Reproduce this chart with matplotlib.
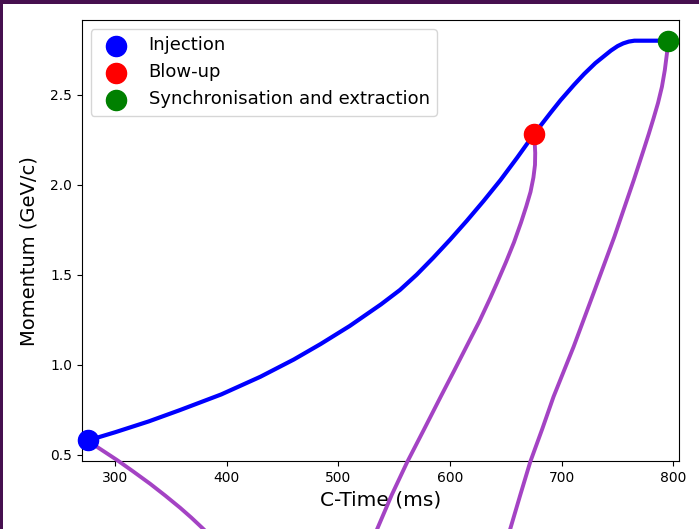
import matplotlib
matplotlib.use("Agg")
import matplotlib.pyplot as plt
from matplotlib.patches import Rectangle

# momentum ramp
ramp_t = [276, 300, 330, 358, 395, 430, 460, 484, 510, 538, 555, 570, 585, 600,
          615, 630, 645, 660, 675, 690, 699, 711, 720, 730, 737, 744, 750, 755,
          760, 765, 780, 795]
ramp_p = [0.58, 0.625, 0.685, 0.748, 0.835, 0.933, 1.029, 1.115, 1.215, 1.335,
          1.415, 1.50, 1.595, 1.695, 1.80, 1.91, 2.025, 2.15, 2.28, 2.40, 2.47,
          2.555, 2.615, 2.675, 2.71, 2.745, 2.77, 2.785, 2.795, 2.80, 2.80, 2.80]

events = ["Injection", "Blow-up", "Synchronisation and extraction"]
event_t = [276, 675.4, 795.2]
event_p = [0.58, 2.28, 2.80]
event_col = ["blue", "red", "green"]

# the three purple pointers running off the bottom
arrow1_t = [276, 283.6, 301.5, 316.1, 331.4, 344.8, 358.2, 368.1, 377.7, 389.6, 403.0]
arrow1_p = [0.58, 0.544, 0.471, 0.407, 0.338, 0.273, 0.205, 0.151, 0.095, 0.023, -0.06]
arrow2_t = [675.4, 676.2, 676.0, 674.6, 672.0, 668.2, 663.5, 657.2, 650.0, 642.0,
            635.9, 626.1, 615.8, 603.7, 591.6, 576.4, 561.6, 547.7, 534.7, 528.4]
arrow2_p = [2.28, 2.176, 2.11, 2.04, 1.96, 1.88, 1.79, 1.68, 1.57, 1.455,
            1.37, 1.24, 1.115, 0.968, 0.823, 0.638, 0.46, 0.277, 0.088, -0.001]
arrow3_t = [795.2, 794.2, 792.3, 789.7, 786.2, 782.2, 777.9, 773.3, 764.5, 747.0,
            729.5, 710.6, 692.6, 682.5, 671.8, 662.8, 653.8, 649.4]
arrow3_p = [2.80, 2.73, 2.637, 2.544, 2.454, 2.369, 2.282, 2.193, 2.026, 1.709,
            1.415, 1.10, 0.822, 0.643, 0.461, 0.276, 0.087, -0.002]

fig = plt.figure(figsize=(6.99, 5.29), dpi=100, facecolor="#46104f")
fig.patches.append(Rectangle((3 / 699, 0), 1, 1 - 4 / 529, transform=fig.transFigure,
                             facecolor="white", edgecolor="none", zorder=-1))
ax = fig.add_axes([0.1169, 0.1285, 0.8545, 0.8337])

ax.plot(ramp_t, ramp_p, color="blue", lw=3, zorder=2, solid_joinstyle="round")
for t, p in [(arrow1_t, arrow1_p), (arrow2_t, arrow2_p), (arrow3_t, arrow3_p)]:
    ax.plot(t, p, color="#a443c4", lw=2.8, clip_on=False, zorder=3,
            solid_joinstyle="round")
for name, t, p, c in zip(events, event_t, event_p, event_col):
    ax.scatter([t], [p], s=210, color=c, label=name, zorder=4, clip_on=False)

ax.set_xlim(270, 805)
ax.set_ylim(0.465, 2.915)
ax.set_xticks([300, 400, 500, 600, 700, 800])
ax.set_yticks([0.5, 1.0, 1.5, 2.0, 2.5])
ax.tick_params(labelsize=10)
ax.set_xlabel("C-Time (ms)", fontsize=14.5)
ax.set_ylabel("Momentum (GeV/c)", fontsize=14)
ax.yaxis.set_label_coords(-0.073, 0.475)
ax.legend(loc="upper left", fontsize=13)

fig.savefig("out.png", dpi=100, facecolor=fig.get_facecolor())
